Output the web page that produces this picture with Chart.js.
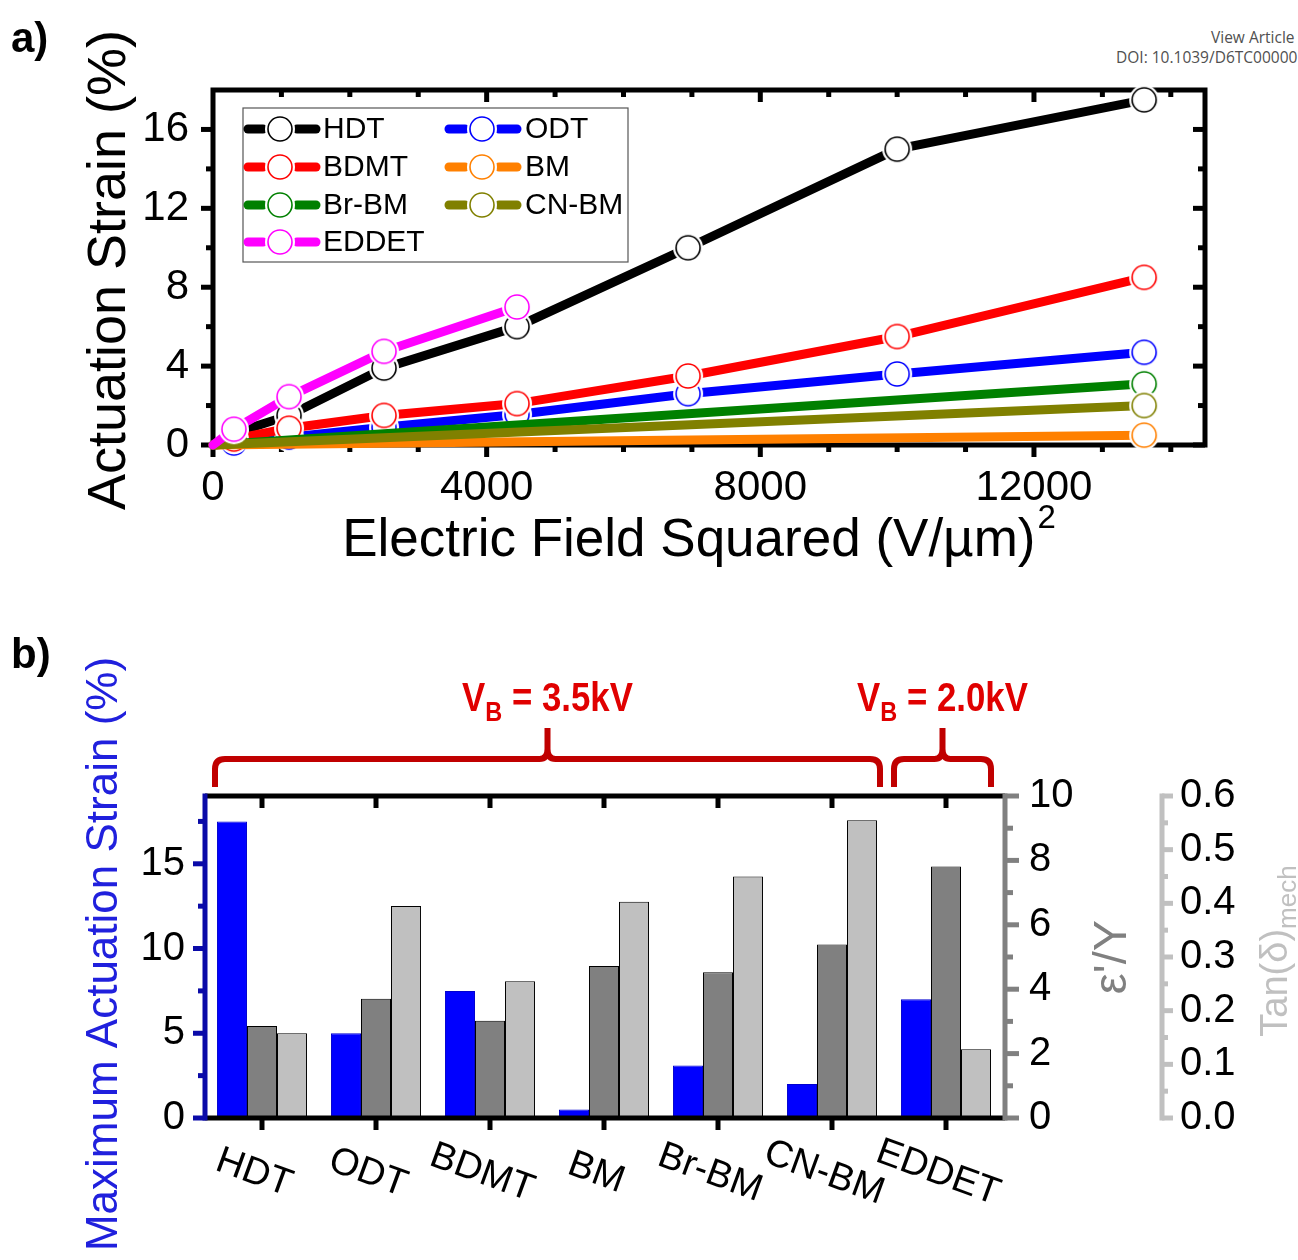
<!DOCTYPE html>
<html>
<head>
<meta charset="utf-8">
<script src="https://cdn.jsdelivr.net/npm/chart.js@4.4.1/dist/chart.umd.min.js"></script>
<style>
  html, body { margin: 0; padding: 0; background: #fff; overflow: hidden; }
  body { width: 1298px; height: 1260px; position: relative; }
  .panel { position: absolute; left: 0; }
  #wrapA { top: 0; }
  #wrapB { top: 600px; }
  .doi { position: absolute; font-family: 'Open Sans', sans-serif; font-size: 15.5px; color: #505050; white-space: nowrap; }
</style>
</head>
<body>
<div class="doi" style="left:1211px; top:26px;">View Article Online</div>
<div class="doi" style="left:1116px; top:46px;">DOI: 10.1039/D6TC00000</div>
<div id="wrapA" class="panel"><canvas id="strainChart" width="1298" height="600"></canvas></div>
<div id="wrapB" class="panel"><canvas id="barChart" width="1298" height="660"></canvas></div>
<script>
// ---- panel a: actuation strain vs. electric field squared ----
const fieldSq      = [0, 306, 1111, 2500, 4444, 6944, 10000, 13611];   // (V/µm)^2
const fieldSqEddet = [0, 306, 1111, 2500, 4444];
const fieldSqEnds  = [0, 13611];

const strainHDT   = [0, 0.6, 1.5, 3.9, 6.0, 10.0, 15.0, 17.5];
const strainODT   = [0, 0.1, 0.4, 0.9, 1.55, 2.6, 3.6, 4.7];
const strainBDMT  = [0, 0.3, 0.85, 1.5, 2.1, 3.5, 5.5, 8.5];
const strainBM    = [0, 0.5];
const strainBrBM  = [0, 3.1];
const strainCNBM  = [0, 2.0];
const strainEDDET = [0, 0.8, 2.45, 4.75, 7.0];

const seriesNames  = ['HDT', 'ODT', 'BDMT', 'BM', 'Br-BM', 'CN-BM', 'EDDET'];
const seriesColors = ['#000000', '#0000ff', '#ff0000', '#ff8000', '#008000', '#808000', '#ff00ff'];
const seriesX = [fieldSq, fieldSq, fieldSq, fieldSqEnds, fieldSqEnds, fieldSqEnds, fieldSqEddet];
const seriesY = [strainHDT, strainODT, strainBDMT, strainBM, strainBrBM, strainCNBM, strainEDDET];

const fieldTicks  = [0, 4000, 8000, 12000];
const strainTicksA = [0, 4, 8, 12, 16];

// ---- panel b: max strain, eps'/Y and tan(delta) per material ----
const samples     = ['HDT', 'ODT', 'BDMT', 'BM', 'Br-BM', 'CN-BM', 'EDDET'];
const maxStrain   = [17.5, 5.0, 7.5, 0.5, 3.1, 2.0, 7.0];
const permModulus = [2.86, 3.70, 3.02, 4.72, 4.53, 5.39, 7.81];
const tanDelta    = [0.158, 0.395, 0.255, 0.403, 0.450, 0.555, 0.128];
const strainTicksB = [0, 5, 10, 15];
const permTicks    = [0, 2, 4, 6, 8, 10];
const tanTicks     = [0, 0.1, 0.2, 0.3, 0.4, 0.5, 0.6];
const breakdownGroups = [[0, 5], [6, 6]];
const breakdownLabels = ['3.5kV', '2.0kV'];

const FONT = "'Liberation Sans', Arial, sans-serif";
Chart.defaults.font.family = FONT;
Chart.defaults.color = '#000';

// open circle with a white halo, so lines stop short of the symbol
function makeMarker(color, r, halo) {
  const c = document.createElement('canvas');
  const s = Math.ceil(halo * 2 + 2);
  c.width = s; c.height = s;
  const g = c.getContext('2d');
  g.fillStyle = '#fff';
  g.beginPath(); g.arc(s / 2, s / 2, halo, 0, Math.PI * 2); g.fill();
  g.strokeStyle = color; g.lineWidth = 1.6;
  g.beginPath(); g.arc(s / 2, s / 2, r, 0, Math.PI * 2); g.stroke();
  return c;
}
const markers = seriesColors.map(c => makeMarker(c, 12, 15));

function seg(ctx, x0, y0, x1, y1) {
  ctx.beginPath(); ctx.moveTo(x0, y0); ctx.lineTo(x1, y1); ctx.stroke();
}

const frameA = {
  id: 'frameA',
  beforeDatasetsDraw(chart) {
    const { ctx, chartArea: a, scales: { x, y } } = chart;
    ctx.save();
    ctx.strokeStyle = '#000';
    ctx.lineWidth = 5;
    for (let v = 1000; v <= 14000; v += 1000) {
      const px = x.getPixelForValue(v);
      const len = v % 4000 === 0 ? 12 : 7;
      seg(ctx, px, a.bottom, px, a.bottom + len);
      seg(ctx, px, a.top, px, a.top + len);
    }
    seg(ctx, a.left, a.bottom, a.left, a.bottom + 12);
    for (let v = 0; v < 18; v += 2) {
      const py = y.getPixelForValue(v);
      const len = v % 4 === 0 ? 12 : 7;
      seg(ctx, a.left - len, py, a.left, py);
      seg(ctx, a.right - len, py, a.right, py);
    }
    ctx.lineJoin = 'miter';
    ctx.strokeRect(a.left, a.top, a.right - a.left, a.bottom - a.top);
    ctx.restore();
  },
  afterDatasetsDraw(chart) {
    const { ctx } = chart;
    // legend box
    ctx.save();
    ctx.fillStyle = '#fff';
    ctx.fillRect(243, 108, 385, 154);
    ctx.strokeStyle = '#555';
    ctx.lineWidth = 1.2;
    ctx.strokeRect(243, 108, 385, 154);
    const rows = [129, 167, 205, 242];
    const cols = [{ x0: 243, cx: 280, x1: 320, tx: 323 }, { x0: 444, cx: 482, x1: 521, tx: 525 }];
    ctx.font = '30px ' + FONT;
    ctx.textBaseline = 'middle';
    ctx.lineCap = 'round';
    ctx.lineWidth = 9;
    seriesNames.forEach((name, i) => {
      const col = cols[i % 2], yy = rows[Math.floor(i / 2)];
      ctx.strokeStyle = seriesColors[i];
      seg(ctx, col.x0 + 5, yy, col.cx - 17, yy);
      seg(ctx, col.cx + 17, yy, col.x1 - 4, yy);
      const m = markers[i];
      ctx.drawImage(m, col.cx - m.width / 2, yy - m.height / 2);
      ctx.fillStyle = '#000';
      ctx.fillText(name, col.tx, yy + 1);
    });
    ctx.restore();
  },
  afterDraw(chart) {
    const { ctx } = chart;
    ctx.save();
    ctx.fillStyle = '#000';
    ctx.font = 'bold 42px ' + FONT;
    ctx.textBaseline = 'middle';
    ctx.fillText('a)', 11, 40);
    // y title
    ctx.save();
    ctx.translate(110, 270);
    ctx.rotate(-Math.PI / 2);
    ctx.font = '54px ' + FONT;
    ctx.textAlign = 'center';
    ctx.fillText('Actuation Strain (%)', 0, 0);
    ctx.restore();
    // x title with superscript
    const main = 'Electric Field Squared (V/\u00b5m)';
    ctx.font = '53px ' + FONT;
    const wm = ctx.measureText(main).width;
    ctx.font = '33px ' + FONT;
    const ws = ctx.measureText('2').width;
    const x0 = 699 - (wm + ws + 2) / 2;
    ctx.font = '53px ' + FONT;
    ctx.textAlign = 'left';
    ctx.fillText(main, x0, 541);
    ctx.font = '33px ' + FONT;
    ctx.fillText('2', x0 + wm + 2, 519);
    ctx.restore();
  }
};

new Chart(document.getElementById('strainChart'), {
  type: 'line',
  data: {
    datasets: seriesNames.map((name, i) => ({
      label: name,
      data: seriesX[i].map((v, k) => ({ x: v, y: seriesY[i][k] })),
      borderColor: seriesColors[i],
      borderWidth: 9,
      borderCapStyle: 'round',
      pointStyle: markers[i],
      // no symbol on the shared origin point
      pointRadius: c => (c.dataIndex === 0 ? 0 : 12),
      clip: false,
      order: seriesNames.length - i
    }))
  },
  options: {
    responsive: false,
    animation: false,
    events: [],
    layout: { padding: { top: 90, right: 93, left: 0, bottom: 0 } },
    plugins: { legend: { display: false }, tooltip: { enabled: false } },
    scales: {
      x: {
        type: 'linear', min: 0, max: 14500,
        afterBuildTicks: s => { s.ticks = fieldTicks.map(v => ({ value: v })); },
        afterFit: s => { s.height = 155; },
        grid: { display: false, drawTicks: false },
        border: { display: false },
        ticks: { font: { size: 42 }, padding: 18, maxRotation: 0, callback: v => String(v) }
      },
      y: {
        min: 0, max: 18,
        afterBuildTicks: s => { s.ticks = strainTicksA.map(v => ({ value: v })); },
        afterFit: s => { s.width = 213; },
        grid: { display: false, drawTicks: false },
        border: { display: false },
        ticks: { font: { size: 42 }, padding: 24, callback: v => String(v) }
      }
    }
  },
  plugins: [frameA]
});

function bracket(ctx, x0, x1, yBar, yEnd, yTip) {
  const xm = (x0 + x1) / 2, r = 10;
  ctx.beginPath();
  ctx.moveTo(x0, yEnd);
  ctx.lineTo(x0, yBar + r);
  ctx.quadraticCurveTo(x0, yBar, x0 + r, yBar);
  ctx.lineTo(xm - 8, yBar);
  ctx.quadraticCurveTo(xm, yBar, xm, yBar - 10);
  ctx.lineTo(xm, yTip);
  ctx.moveTo(xm, yBar - 10);
  ctx.quadraticCurveTo(xm, yBar, xm + 8, yBar);
  ctx.lineTo(x1 - r, yBar);
  ctx.quadraticCurveTo(x1, yBar, x1, yBar + r);
  ctx.lineTo(x1, yEnd);
  ctx.stroke();
}

function breakdownText(ctx, cx, cy, value) {
  ctx.save();
  ctx.translate(cx, cy);
  ctx.scale(0.87, 1);
  ctx.fillStyle = '#e00000';
  ctx.textBaseline = 'alphabetic';
  ctx.textAlign = 'left';
  const big = 'bold 40px ' + FONT, small = 'bold 27px ' + FONT;
  const rest = ' = ' + value;
  ctx.font = big; const wV = ctx.measureText('V').width; const wR = ctx.measureText(rest).width;
  ctx.font = small; const wB = ctx.measureText('B').width;
  let x = -(wV + wB + wR) / 2;
  const base = 14;
  ctx.font = big; ctx.fillText('V', x, base); x += wV;
  ctx.font = small; ctx.fillText('B', x, base + 10); x += wB;
  ctx.font = big; ctx.fillText(rest, x, base);
  ctx.restore();
}

const decorB = {
  id: 'decorB',
  afterDatasetsDraw(chart) {
    const { ctx, chartArea: a, scales: { x, yL, yE, yT } } = chart;
    ctx.save();
    ctx.lineWidth = 5;
    ctx.lineCap = 'butt';
    // top and bottom frame
    ctx.strokeStyle = '#000';
    seg(ctx, a.left, a.top, a.right + 2, a.top);
    seg(ctx, a.left, a.bottom, a.right + 2, a.bottom);
    samples.forEach((_, i) => {
      const px = x.getPixelForValue(i);
      seg(ctx, px, a.top, px, a.top + 12);
      seg(ctx, px, a.bottom, px, a.bottom + 12);
    });
    // left strain axis
    ctx.strokeStyle = '#0a0aa8';
    seg(ctx, a.left, a.top - 2.5, a.left, a.bottom + 2.5);
    for (let v = 0; v <= 17.5; v += 2.5) {
      const py = yL.getPixelForValue(v);
      seg(ctx, a.left - (v % 5 === 0 ? 12 : 7), py, a.left, py);
    }
    // eps'/Y axis
    const xe = a.right + 2;
    ctx.strokeStyle = '#808080';
    seg(ctx, xe, a.top - 2.5, xe, a.bottom + 2.5);
    for (let v = 0; v <= 10; v += 1) {
      const py = yE.getPixelForValue(v);
      seg(ctx, xe, py, xe + (v % 2 === 0 ? 14 : 8), py);
    }
    // tan(delta) axis
    const xt = yT.left;
    ctx.strokeStyle = '#c0c0c0';
    seg(ctx, xt, a.top - 2.5, xt, a.bottom + 2.5);
    for (let k = 0; k <= 12; k++) {
      const py = yT.getPixelForValue(k * 0.05);
      seg(ctx, xt, py, xt + (k % 2 === 0 ? 11 : 6), py);
    }
    ctx.restore();
  },
  afterDraw(chart) {
    const { ctx, chartArea: a, scales: { x } } = chart;
    ctx.save();
    ctx.fillStyle = '#000';
    ctx.font = 'bold 42px ' + FONT;
    ctx.textBaseline = 'middle';
    ctx.fillText('b)', 11, 56);

    // rotated category labels
    ctx.font = '38px ' + FONT;
    ctx.textAlign = 'center';
    samples.forEach((s, i) => {
      ctx.save();
      ctx.translate(x.getPixelForValue(i) - 8, 573);
      ctx.rotate(20 * Math.PI / 180);
      ctx.fillText(s, 0, 0);
      ctx.restore();
    });

    // axis titles
    const midY = (a.top + a.bottom) / 2;
    ctx.save();
    ctx.translate(105, midY - 3);
    ctx.rotate(-Math.PI / 2);
    ctx.font = '44px ' + FONT;
    ctx.fillStyle = '#2020dd';
    ctx.fillText('Maximum Actuation Strain (%)', 0, 0);
    ctx.restore();

    ctx.save();
    ctx.translate(1113, midY);
    ctx.rotate(-Math.PI / 2);
    ctx.font = '47px ' + FONT;
    ctx.fillStyle = '#808080';
    ctx.fillText("\u03b5'/Y", 0, 0);
    ctx.restore();

    ctx.save();
    ctx.translate(1277, midY - 6);
    ctx.rotate(-Math.PI / 2);
    ctx.fillStyle = '#c0c0c0';
    ctx.textAlign = 'left';
    ctx.font = '38px ' + FONT;
    const wT = ctx.measureText('Tan(\u03b4)').width;
    ctx.font = '26px ' + FONT;
    const wS = ctx.measureText('mech').width;
    const sx = -(wT + wS) / 2;
    ctx.font = '38px ' + FONT;
    ctx.fillText('Tan(\u03b4)', sx, 0);
    ctx.font = '26px ' + FONT;
    ctx.fillText('mech', sx + wT, 12);
    ctx.restore();

    // breakdown voltage brackets
    ctx.strokeStyle = '#c00000';
    ctx.lineWidth = 6;
    const pads = [[-47, 48], [-52, 45]];
    breakdownGroups.forEach((g, k) => {
      const x0 = x.getPixelForValue(g[0]) + pads[k][0];
      const x1 = x.getPixelForValue(g[1]) + pads[k][1];
      bracket(ctx, x0, x1, 159, 187, 128);
      breakdownText(ctx, (x0 + x1) / 2, 97, breakdownLabels[k]);
    });
    ctx.restore();
  }
};

new Chart(document.getElementById('barChart'), {
  type: 'bar',
  data: {
    labels: samples,
    datasets: [
      { label: 'Maximum Actuation Strain', data: maxStrain, yAxisID: 'yL',
        backgroundColor: '#0000ff', borderColor: '#0000d0', borderWidth: 1,
        categoryPercentage: 0.79, barPercentage: 1.0 },
      { label: "\u03b5'/Y", data: permModulus, yAxisID: 'yE',
        backgroundColor: '#808080', borderColor: '#000', borderWidth: 1,
        categoryPercentage: 0.79, barPercentage: 1.0 },
      { label: 'Tan(\u03b4)mech', data: tanDelta, yAxisID: 'yT',
        backgroundColor: '#c0c0c0', borderColor: '#000', borderWidth: 1,
        categoryPercentage: 0.79, barPercentage: 1.0 }
    ]
  },
  options: {
    responsive: false,
    animation: false,
    events: [],
    layout: { padding: { top: 196, right: 0, left: 0, bottom: 0 } },
    plugins: { legend: { display: false }, tooltip: { enabled: false } },
    scales: {
      x: {
        type: 'category',
        afterFit: s => { s.height = 142; },
        grid: { display: false, drawTicks: false },
        border: { display: false },
        ticks: { display: false }
      },
      yL: {
        position: 'left', min: 0, max: 19,
        afterBuildTicks: s => { s.ticks = strainTicksB.map(v => ({ value: v })); },
        afterFit: s => { s.width = 205; },
        grid: { display: false, drawTicks: false },
        border: { display: false },
        ticks: { font: { size: 40 }, padding: 20, callback: v => String(v) }
      },
      yE: {
        position: 'right', min: 0, max: 10,
        afterBuildTicks: s => { s.ticks = permTicks.map(v => ({ value: v })); },
        afterFit: s => { s.width = 159; },
        grid: { display: false, drawTicks: false },
        border: { display: false },
        ticks: { font: { size: 40 }, padding: 26, callback: v => String(v) }
      },
      yT: {
        position: 'right', min: 0, max: 0.6,
        afterBuildTicks: s => { s.ticks = tanTicks.map(v => ({ value: v })); },
        afterFit: s => { s.width = 136; },
        grid: { display: false, drawTicks: false },
        border: { display: false },
        ticks: { font: { size: 40 }, padding: 18, callback: v => Number(v).toFixed(1) }
      }
    }
  },
  plugins: [decorB]
});
</script>
</body>
</html>
